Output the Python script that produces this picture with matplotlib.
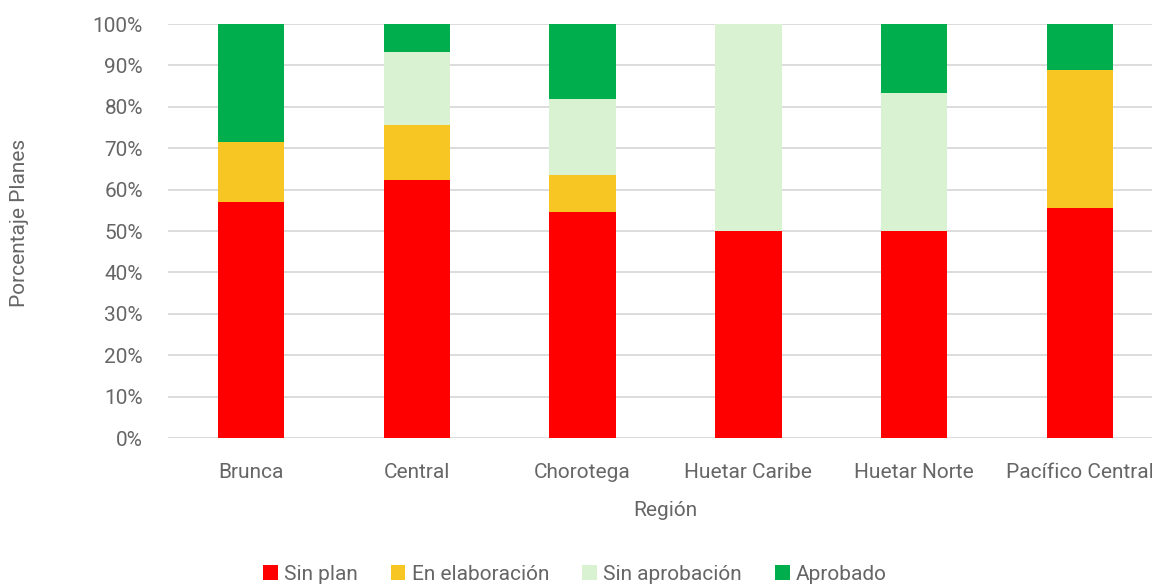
import matplotlib
matplotlib.use("Agg")
from matplotlib import pyplot as plt
from matplotlib.ticker import PercentFormatter
import numpy as np

regiones = ["Brunca", "Central", "Chorotega", "Huetar Caribe", "Huetar Norte", "Pacífico Central"]
sin_plan = [57.1, 62.2, 54.5, 50.0, 50.0, 55.6]
en_elaboracion = [14.3, 13.3, 9.1, 0.0, 0.0, 33.3]
sin_aprobacion = [0.0, 17.8, 18.2, 50.0, 33.3, 0.0]
aprobado = [28.6, 6.7, 18.2, 0.0, 16.7, 11.1]

series = [("Sin plan", sin_plan, "#ff0000"),
          ("En elaboración", en_elaboracion, "#f8c622"),
          ("Sin aprobación", sin_aprobacion, "#d8f2d2"),
          ("Aprobado", aprobado, "#00ae4d")]

plt.rcParams["font.family"] = ["Roboto", "DejaVu Sans"]
plt.rcParams["font.weight"] = "normal"
txt = "#666666"
fs = 15

fig = plt.figure(figsize=(11.52, 5.87), dpi=100)
ax = fig.add_axes([168/1152, 1-438/587, 995/1152, 414/587])

# stacked bars, one segment per plan status
x = np.arange(len(regiones))
bottom = np.zeros(len(regiones))
for name, vals, col in series:
    ax.bar(x, vals, width=0.4, bottom=bottom, color=col, label=name, zorder=3)
    bottom += np.array(vals)

ax.set_xlim(-0.5, len(regiones) - 0.5)
ax.set_ylim(0, 100)
ax.set_yticks(np.arange(0, 101, 10))
ax.yaxis.set_major_formatter(PercentFormatter(decimals=0))
ax.set_xticks(x)
ax.set_xticklabels(regiones)
ax.grid(axis="y", color="#d9d9d9", linewidth=1.3, zorder=0)
ax.tick_params(length=0, labelsize=fs, colors=txt)
ax.tick_params(axis="x", pad=18)
ax.tick_params(axis="y", pad=18)
for s in ax.spines.values():
    s.set_visible(False)

fig.text(20/1152, 1-223/587, "Porcentaje Planes", rotation=90, ha="center", va="center",
         fontsize=fs, color=txt)
fig.text(665/1152, 1-511/587, "Región", ha="center", va="center", fontsize=fs, color=txt)

leg = fig.legend(loc="center", bbox_to_anchor=(575/1152, 1-574/587), ncol=4, frameon=False,
                 fontsize=fs, handlelength=0.7, handleheight=0.7, handletextpad=0.3,
                 columnspacing=1.6)
for t in leg.get_texts():
    t.set_color(txt)

fig.savefig("out.png", dpi=100)
